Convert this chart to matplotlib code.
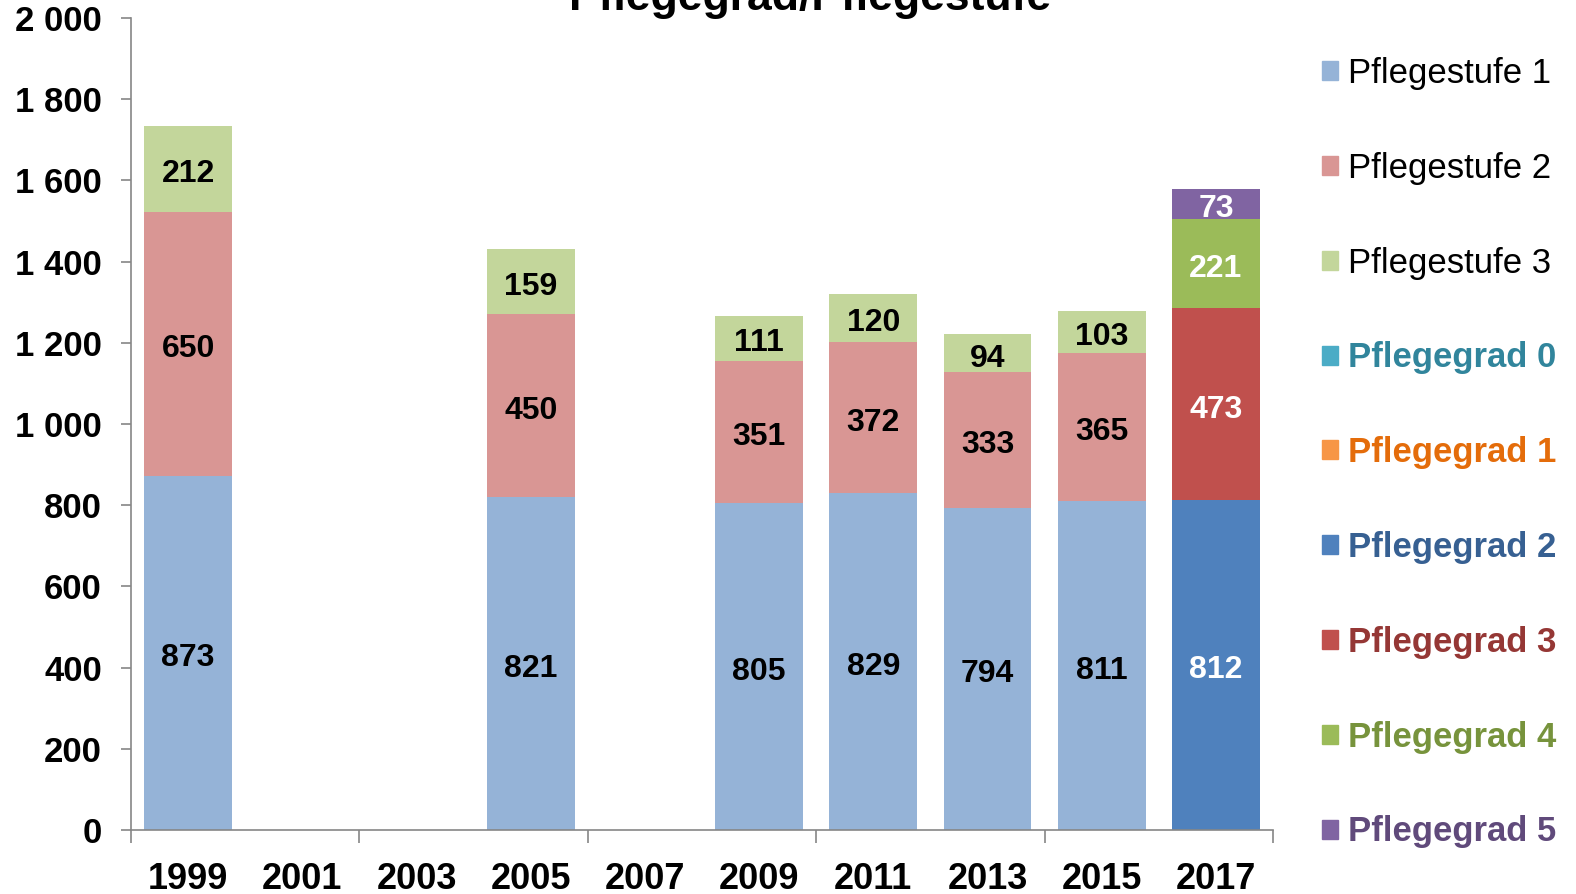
import numpy as np
import matplotlib.pyplot as plt
from matplotlib.patches import Rectangle
from matplotlib.ticker import FuncFormatter

plt.rcParams['font.family'] = ['Liberation Sans', 'DejaVu Sans']

years = ['1999', '2001', '2003', '2005', '2007', '2009', '2011', '2013', '2015', '2017']

series_names = ['Pflegestufe 1', 'Pflegestufe 2', 'Pflegestufe 3',
                'Pflegegrad 0', 'Pflegegrad 1', 'Pflegegrad 2',
                'Pflegegrad 3', 'Pflegegrad 4', 'Pflegegrad 5']

stufe1 = [873, 0, 0, 821, 0, 805, 829, 794, 811, 0]
stufe2 = [650, 0, 0, 450, 0, 351, 372, 333, 365, 0]
stufe3 = [212, 0, 0, 159, 0, 111, 120, 94, 103, 0]
grad0 = [0, 0, 0, 0, 0, 0, 0, 0, 0, 0]
grad1 = [0, 0, 0, 0, 0, 0, 0, 0, 0, 0]
grad2 = [0, 0, 0, 0, 0, 0, 0, 0, 0, 812]
grad3 = [0, 0, 0, 0, 0, 0, 0, 0, 0, 473]
grad4 = [0, 0, 0, 0, 0, 0, 0, 0, 0, 221]
grad5 = [0, 0, 0, 0, 0, 0, 0, 0, 0, 73]

bar_colors = ['#95B3D7', '#D99694', '#C3D69B', '#4BACC6', '#F79646',
              '#4F81BD', '#C0504D', '#9BBB59', '#8064A2']
legend_text_colors = ['black', 'black', 'black', '#31859C', '#E46C0A',
                      '#376092', '#953735', '#77933C', '#604A7B']
value_colors = ['black', 'black', 'black', 'white', 'white',
                'white', 'white', 'white', 'white']

all_series = [stufe1, stufe2, stufe3, grad0, grad1, grad2, grad3, grad4, grad5]

fig = plt.figure(figsize=(15.76, 8.94), dpi=100)
ax = fig.add_axes([131 / 1576, 64 / 894, 1142 / 1576, 812 / 894])

x = np.arange(len(years))
bottom = np.zeros(len(years))
for vals, col, tcol in zip(all_series, bar_colors, value_colors):
    vals = np.array(vals, dtype=float)
    bars = ax.bar(x, vals, width=0.77, bottom=bottom, color=col, linewidth=0)
    labels = [str(int(v)) if v > 0 else '' for v in vals]
    anns = ax.bar_label(bars, labels=labels, label_type='center', color=tcol,
                        fontsize=23, fontweight='bold')
    for a in anns:
        a.xyann = (0, -3.8)  # labels sit a little below centre in the original
    bottom += vals

gray = '#868686'
ax.set_xlim(-0.5, 9.5)
ax.set_ylim(0, 2000)
ax.set_yticks(np.arange(0, 2001, 200))
ax.yaxis.set_major_formatter(FuncFormatter(lambda v, p: f'{int(v):,}'.replace(',', ' ')))
ax.set_xticks(x)
ax.set_xticklabels(years)
ax.set_xticks(np.arange(-0.5, 9.6, 2), minor=True)
ax.tick_params(axis='x', which='major', length=0, pad=23, labelsize=26)
ax.tick_params(axis='x', which='minor', length=9, color=gray, width=1.2, direction='out')
ax.tick_params(axis='y', length=7, color=gray, width=1.2, direction='out', pad=14, labelsize=25)
for lab in ax.get_xticklabels() + ax.get_yticklabels():
    lab.set_fontweight('bold')

for side in ['top', 'right']:
    ax.spines[side].set_visible(False)
for side in ['left', 'bottom']:
    ax.spines[side].set_color(gray)
    ax.spines[side].set_linewidth(1.2)

handles = [Rectangle((0, 0), 1, 1, color=c) for c in bar_colors]
leg = fig.legend(handles, series_names, loc='upper left',
                 bbox_to_anchor=(1322 / 1576, 1 - 57 / 894),
                 frameon=False, fontsize=25, handlelength=0.46, handleheight=0.46,
                 handletextpad=0.29, labelspacing=1.78, borderaxespad=0,
                 borderpad=0)
for txt, col, name in zip(leg.get_texts(), legend_text_colors, series_names):
    txt.set_color(col)
    if name.startswith('Pflegegrad'):
        txt.set_fontweight('bold')

fig.text(810 / 1576, 1 - 10 / 894, 'Pflegegrad/Pflegestufe', ha='center',
         va='baseline', fontsize=32, fontweight='bold')

fig.savefig('out.png', dpi=100)
